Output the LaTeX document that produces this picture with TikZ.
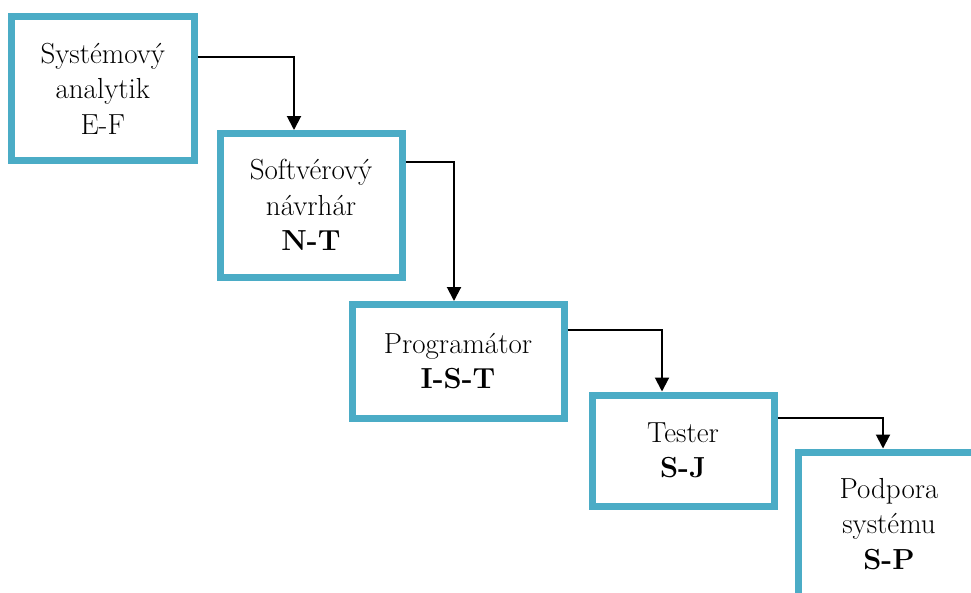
\documentclass[tikz,border=0pt]{standalone}
\usetikzlibrary{arrows.meta}
\definecolor{boxteal}{RGB}{75,172,198}
\tikzset{
  rolebox/.style={draw=boxteal, line width=7pt, fill=white, align=center, inner sep=0pt,
    font=\fontsize{29}{35.5}\selectfont},
  flowarrow/.style={draw=black, line width=2pt, -{Triangle[length=14pt,width=14pt]}}
}
\begin{document}
\begin{tikzpicture}[x=1pt,y=-1pt]
\useasboundingbox (0,0) rectangle (971,592);
\clip (0,0) rectangle (971,592);
\node[rolebox, minimum width=182.5pt, minimum height=144pt] (b1) at (102.75,88.5) {Systémový\\analytik\\E-F};
\node[rolebox, minimum width=182pt, minimum height=143.5pt] (b2) at (311,205.25) {Softvérový\\návrhár\\\textbf{N-T}};
\node[rolebox, minimum width=212pt, minimum height=113.5pt] (b3) at (458,361.25) {Programátor\\\textbf{I-S-T}};
\node[rolebox, minimum width=182pt, minimum height=111pt] (b4) at (683,450.5) {Tester\\\textbf{S-J}};
\node[rolebox, minimum width=182pt, minimum height=144pt] (b5) at (889,524) {Podpora\\systému\\\textbf{S-P}};
\draw[flowarrow] ([yshift=31.5pt]b1.east) -| ([xshift=-17pt]b2.north);
\draw[flowarrow] ([yshift=43pt]b2.east) -| ([xshift=-4pt]b3.north);
\draw[flowarrow] ([yshift=31pt]b3.east) -| ([xshift=-21pt]b4.north);
\draw[flowarrow] ([yshift=32.5pt]b4.east) -| ([xshift=-6pt]b5.north);
\end{tikzpicture}
\end{document}
